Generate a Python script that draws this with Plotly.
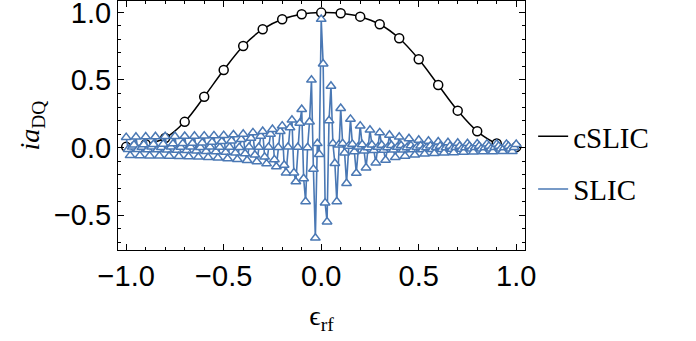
import plotly.graph_objects as go

# cSLIC: sampled every 0.1
cslic_x = [-1.0, -0.9, -0.8, -0.7, -0.6, -0.5, -0.4, -0.3, -0.2, -0.1, 0.0,
           0.1, 0.2, 0.3, 0.4, 0.5, 0.6, 0.7, 0.8, 0.9, 1.0]
cslic_y = [0.005, 0.025, 0.07, 0.19, 0.376, 0.574, 0.752, 0.876, 0.95, 0.987, 0.999,
           0.994, 0.969, 0.913, 0.809, 0.653, 0.463, 0.273, 0.12, 0.03, 0.003]

slic_x = [round(-1.0 + 0.01 * i, 2) for i in range(201)]
slic_y = [
    0.075,
    -0.013, -0.059, 0.004, 0.020, 0.078,
    -0.014, -0.060, 0.002, 0.022, 0.080,
    -0.015, -0.061, 0.005, 0.024, 0.081,
    -0.016, -0.062, 0.001, 0.026, 0.082,
    -0.018, -0.063, 0.004, 0.028, 0.083,
    -0.020, -0.065, 0.002, 0.030, 0.084,
    -0.022, -0.067, 0.005, 0.032, 0.085,
    -0.025, -0.070, 0.001, 0.035, 0.086,
    -0.028, -0.073, 0.004, 0.040, 0.088,
    -0.030, -0.077, 0.002, 0.045, 0.090,
    -0.035, -0.082, 0.003, 0.050, 0.095,
    -0.040, -0.088, 0.001, 0.060, 0.100,
    -0.045, -0.095, 0.004, 0.070, 0.110,
    -0.055, -0.105, 0.002, 0.085, 0.120,
    -0.070, -0.120, 0.003, 0.100, 0.135,
    -0.090, -0.142, 0.001, 0.120, 0.160,
    -0.130, -0.187, 0.004, 0.147, 0.204,
    -0.187, -0.253, 0.002, 0.180, 0.283,
    -0.230, -0.400, 0.000, 0.190, 0.500,
    -0.160, -0.670, 0.030, -0.050,
    0.950, 0.620, -0.410, -0.550, 0.200,
    0.455, 0.030, -0.117, -0.400, 0.020,
    0.290, 0.030, -0.040, -0.265, 0.010,
    0.210, 0.025, -0.030, -0.190, 0.005,
    0.160, 0.022, -0.025, -0.150, 0.000,
    0.130, 0.020, -0.022, -0.113, 0.002,
    0.110, 0.018, -0.020, -0.093, 0.000,
    0.092, 0.016, -0.018, -0.073, 0.002,
    0.078, 0.015, -0.017, -0.063, 0.000,
    0.066, 0.014, -0.016, -0.055, 0.001,
    0.055, 0.013, -0.015, -0.048, 0.000,
    0.048, 0.012, -0.014, -0.043, 0.001,
    0.042, 0.011, -0.013, -0.040, 0.000,
    0.037, 0.010, -0.012, -0.037, 0.001,
    0.033, 0.010, -0.011, -0.035, 0.000,
    0.030, 0.010, -0.010, -0.033, 0.001,
    0.028, 0.010, -0.010, -0.031, 0.000,
    0.027, 0.010, -0.010, -0.030, 0.001,
    0.026, 0.010, -0.010, -0.029, 0.000,
    0.025, 0.010, -0.010, -0.028, 0.001,
    0.024,
]

x_ticks = [-1.0, -0.5, 0.0, 0.5, 1.0]
y_ticks = [-0.5, 0.0, 0.5, 1.0]
series_names = ["cSLIC", "SLIC"]

BLACK = "#000000"
BLUE = "#4a78b4"

fig = go.Figure()
fig.add_trace(go.Scatter(
    x=cslic_x, y=cslic_y, mode="lines+markers", line=dict(color=BLACK, width=1.5, shape="spline"),
    marker=dict(symbol="circle", size=9, color="white", line=dict(color=BLACK, width=1.5)),
    showlegend=False))
fig.add_trace(go.Scatter(
    x=slic_x, y=slic_y, mode="lines+markers", line=dict(color=BLUE, width=1.6),
    marker=dict(symbol="triangle-up", size=8.5, color="white", line=dict(color=BLUE, width=1.5)),
    showlegend=False))
# legend entries (line only)
fig.add_trace(go.Scatter(x=[None], y=[None], mode="lines", name=series_names[0],
                         line=dict(color=BLACK, width=1.5), legendgroup="a"))
fig.add_trace(go.Scatter(x=[None], y=[None], mode="lines", name=series_names[1],
                         line=dict(color=BLUE, width=1.5), legendgroup="b"))

axis_common = dict(showline=True, linecolor="black", linewidth=1, mirror="allticks",
                   ticks="inside", ticklen=6, tickwidth=1, tickcolor="black",
                   showgrid=False, zeroline=False, ticklabeloverflow="allow",
                   tickfont=dict(family="Liberation Sans", size=29, color="black"),
                   minor=dict(dtick=0.1, ticks="inside", ticklen=3, tickcolor="black", showgrid=False))

fig.update_xaxes(range=[-1.042, 1.045], tickvals=x_ticks, tickformat=".1f",
                 title=dict(text="ϵ<sub>rf</sub>", font=dict(family="Liberation Serif", size=28, color="black"),
                            standoff=14),
                 **axis_common)
fig.update_yaxes(range=[-0.759, 1.085], tickvals=y_ticks, tickformat=".1f",
                 title=dict(text="<i>ia</i><sub>DQ</sub>", font=dict(family="Liberation Serif", size=28, color="black"),
                            standoff=6),
                 **axis_common)

fig.update_layout(
    width=696, height=341,
    margin=dict(l=118, r=171, t=1, b=91, autoexpand=False),
    plot_bgcolor="white", paper_bgcolor="white",
    legend=dict(x=1.02, xanchor="left", y=0.35, yanchor="middle",
                font=dict(family="Liberation Serif", size=29, color="black"),
                tracegroupgap=12, bgcolor="rgba(0,0,0,0)"),
)

fig.write_html("out.html", config={"displayModeBar": False},
               post_script="document.body.style.margin='0px';")
